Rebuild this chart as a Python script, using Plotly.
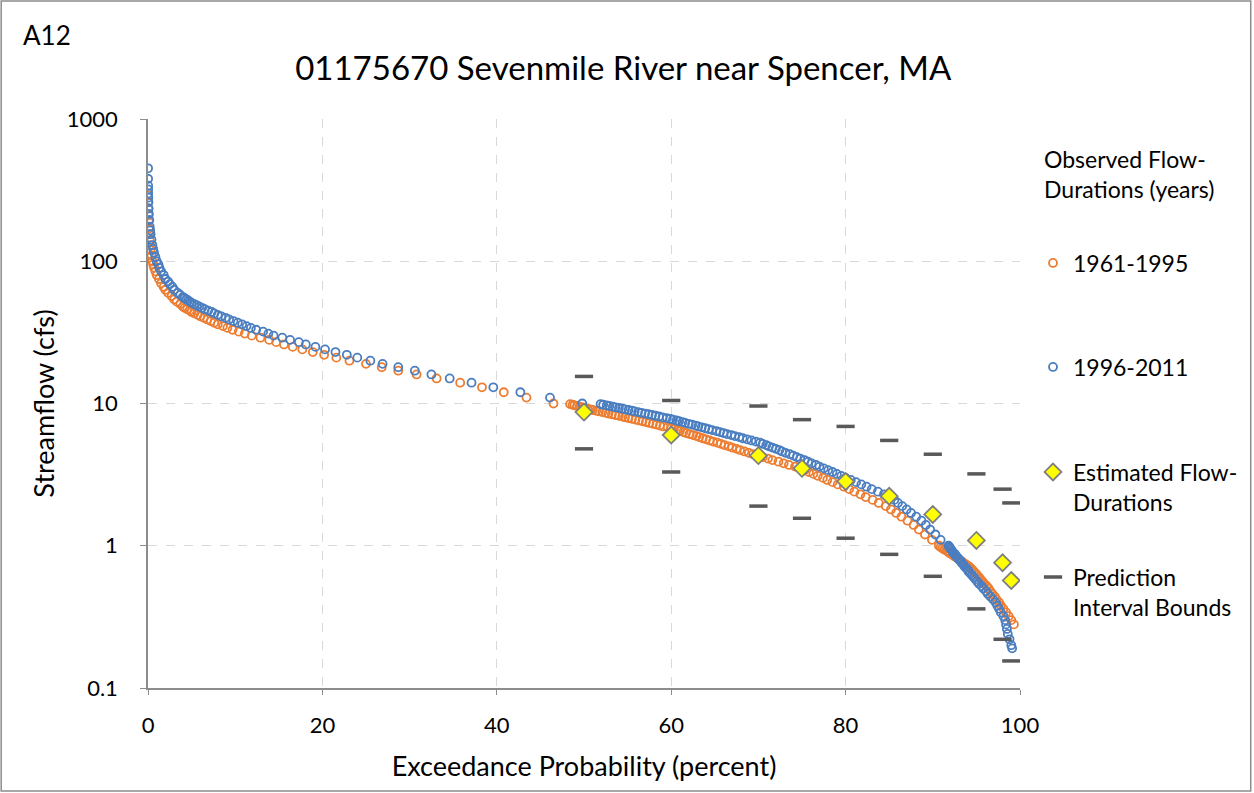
import plotly.graph_objects as go

FONT = "Lato"

# Observed flow-duration points, 1961-1995 (flow in cfs, exceedance in percent)
early_cfs = [
    290, 260, 235, 210, 190, 170, 155, 140, 130, 120, 110, 100, 95, 90, 85, 80, 75, 70, 66, 63,
    60, 57, 54, 52, 50, 48, 47, 46, 45, 44, 43, 42, 41, 40, 39, 38, 37, 36, 35, 34,
    33, 32, 31, 30, 29, 28, 27, 26, 25, 24, 23, 22, 21, 20, 19, 18, 17, 16, 15, 14,
    13, 12, 11, 10,
    9.9, 9.8, 9.7, 9.6, 9.5, 9.4, 9.3, 9.2, 9.1, 9.0, 8.9, 8.8, 8.7, 8.6, 8.5, 8.4, 8.3, 8.2, 8.1, 8.0,
    7.9, 7.8, 7.7, 7.6, 7.5, 7.4, 7.3, 7.2, 7.1, 7.0, 6.9, 6.8, 6.7, 6.6, 6.5, 6.4, 6.3, 6.2, 6.1, 6.0,
    5.9, 5.8, 5.7, 5.6, 5.5, 5.4, 5.3, 5.2, 5.1, 5.0, 4.9, 4.8, 4.7, 4.6, 4.5, 4.4, 4.3, 4.2, 4.1, 4.0,
    3.9, 3.8, 3.7, 3.6, 3.5, 3.4, 3.3, 3.2, 3.1, 3.0, 2.9, 2.8, 2.7, 2.6, 2.5, 2.4, 2.3, 2.2, 2.1, 2.0,
    1.9, 1.8, 1.7, 1.6, 1.5, 1.4, 1.3, 1.2, 1.1, 1.0,
    0.98, 0.96, 0.94, 0.92, 0.90, 0.88, 0.86, 0.84, 0.82, 0.80, 0.78, 0.76, 0.74, 0.72, 0.70, 0.68,
    0.66, 0.64, 0.62, 0.60, 0.58, 0.56, 0.54, 0.52, 0.50, 0.48, 0.46, 0.44, 0.42, 0.40, 0.38, 0.36,
    0.34, 0.32, 0.30, 0.28,
]
early_pct = [
    0.01, 0.02, 0.035, 0.05, 0.075, 0.1, 0.15, 0.2, 0.25, 0.3, 0.4, 0.5, 0.6, 0.7, 0.85, 1.0, 1.25, 1.5, 1.8, 2.0,
    2.3, 2.7, 3.0, 3.3, 3.7, 4.0, 4.2, 4.5, 4.8, 5.0, 5.3, 5.7, 6.0, 6.4, 6.8, 7.2, 7.6, 8.0, 8.6, 9.1,
    9.7, 10.4, 11.1, 11.9, 12.9, 13.9, 14.7, 15.6, 16.6, 17.7, 18.9, 20.2, 21.6, 23.1, 25.0, 26.8, 28.7, 30.8, 33.1, 35.8,
    38.3, 40.8, 43.4, 46.5,
    48.4, 48.7, 48.9, 49.2, 49.5, 49.8, 50.1, 50.4, 50.7, 51.0, 51.4, 51.7, 52.1, 52.5, 52.8, 53.2, 53.6, 54.0, 54.4, 54.7,
    55.1, 55.5, 55.9, 56.3, 56.7, 57.1, 57.5, 57.9, 58.3, 58.7, 59.1, 59.6, 60.0, 60.3, 60.7, 61.0, 61.4, 61.7, 62.1, 62.5,
    62.9, 63.2, 63.6, 64.0, 64.4, 64.8, 65.3, 65.7, 66.1, 66.6, 67.0, 67.5, 67.9, 68.4, 68.9, 69.4, 69.9, 70.5, 71.1, 71.6,
    72.3, 72.9, 73.5, 74.2, 74.8, 75.3, 75.8, 76.3, 76.8, 77.4, 77.9, 78.5, 79.1, 79.8, 80.4, 81.0, 81.7, 82.3, 83.1, 83.8,
    84.6, 85.2, 85.8, 86.4, 87.1, 87.8, 88.4, 89.1, 89.9, 90.7,
    90.9, 91.1, 91.3, 91.6, 91.8, 92.0, 92.3, 92.5, 92.8, 93.0, 93.3, 93.5, 93.8, 94.1, 94.3, 94.5,
    94.7, 94.9, 95.1, 95.3, 95.5, 95.7, 95.9, 96.2, 96.4, 96.6, 96.8, 97.1, 97.3, 97.6, 97.8, 98.1,
    98.4, 98.7, 99.0, 99.3,
]

# Observed flow-duration points, 1996-2011
late_cfs = [
    450, 380, 340, 320, 300, 280, 260, 235, 215, 195, 175, 165, 155, 142, 130, 122, 115, 107, 100, 95,
    90, 85, 80, 75, 72, 69, 66, 63, 60, 58, 56, 55, 54, 53, 52, 51, 50, 49, 48, 47,
    46, 45, 44, 43, 42, 41, 40, 39, 38, 37, 36, 35, 34, 33, 32, 31, 30, 29, 28, 27,
    26, 25, 24, 23, 22, 21, 20, 19, 18, 17, 16, 15, 14, 13, 12, 11, 10,
    9.9, 9.8, 9.7, 9.6, 9.5, 9.4, 9.3, 9.2, 9.1, 9.0, 8.9, 8.8, 8.7, 8.6, 8.5, 8.4, 8.3, 8.2, 8.1, 8.0,
    7.9, 7.8, 7.7, 7.6, 7.5, 7.4, 7.3, 7.2, 7.1, 7.0, 6.9, 6.8, 6.7, 6.6, 6.5, 6.4, 6.3, 6.2, 6.1, 6.0,
    5.9, 5.8, 5.7, 5.6, 5.5, 5.4, 5.3, 5.2, 5.1, 5.0, 4.9, 4.8, 4.7, 4.6, 4.5, 4.4, 4.3, 4.2, 4.1, 4.0,
    3.9, 3.8, 3.7, 3.6, 3.5, 3.4, 3.3, 3.2, 3.1, 3.0, 2.9, 2.8, 2.7, 2.6, 2.5, 2.4, 2.3, 2.2, 2.1, 2.0,
    1.9, 1.8, 1.7, 1.6, 1.5, 1.4, 1.3, 1.2, 1.1, 1.0,
    0.98, 0.96, 0.94, 0.92, 0.90, 0.88, 0.86, 0.84, 0.82, 0.80, 0.78, 0.76, 0.74, 0.72, 0.70, 0.68,
    0.66, 0.64, 0.62, 0.60, 0.58, 0.56, 0.54, 0.52, 0.50, 0.48, 0.46, 0.44, 0.42, 0.40, 0.38, 0.36,
    0.34, 0.32, 0.30, 0.28, 0.26, 0.24, 0.22, 0.20, 0.19,
]
late_pct = [
    0.01, 0.015, 0.02, 0.025, 0.03, 0.04, 0.05, 0.075, 0.1, 0.15, 0.2, 0.25, 0.3, 0.4, 0.5, 0.6, 0.7, 0.85, 1.0, 1.2,
    1.3, 1.5, 1.8, 2.0, 2.3, 2.5, 2.8, 3.0, 3.4, 3.7, 4.0, 4.2, 4.4, 4.6, 4.8, 5.0, 5.3, 5.6, 5.9, 6.2,
    6.5, 6.9, 7.3, 7.6, 8.0, 8.4, 8.9, 9.3, 9.8, 10.3, 10.8, 11.3, 11.8, 12.4, 13.2, 13.8, 14.4, 15.4, 16.3, 17.3,
    18.1, 19.2, 20.3, 21.5, 22.8, 24.0, 25.5, 26.9, 28.7, 30.6, 32.5, 34.6, 37.1, 39.6, 42.7, 46.1, 49.8,
    51.9, 52.2, 52.6, 52.9, 53.3, 53.6, 54.0, 54.4, 54.7, 55.1, 55.5, 55.8, 56.2, 56.6, 57.0, 57.4, 57.8, 58.2, 58.6, 59.0,
    59.5, 59.9, 60.2, 60.6, 60.9, 61.3, 61.6, 62.0, 62.4, 62.8, 63.1, 63.5, 63.9, 64.3, 64.7, 65.2, 65.6, 66.0, 66.4, 66.9,
    67.3, 67.8, 68.2, 68.7, 69.2, 69.7, 70.2, 70.5, 70.9, 71.2, 71.6, 72.0, 72.4, 72.7, 73.1, 73.6, 74.0, 74.4, 74.8, 75.3,
    75.7, 76.1, 76.6, 77.0, 77.5, 78.0, 78.5, 79.0, 79.5, 80.0, 80.6, 81.2, 81.8, 82.4, 83.0, 83.7, 84.4, 85.1, 85.6, 86.0,
    86.5, 87.0, 87.5, 88.1, 88.7, 89.2, 89.7, 90.3, 90.9, 91.8,
    91.9, 92.0, 92.1, 92.2, 92.3, 92.5, 92.6, 92.7, 92.9, 93.0, 93.2, 93.3, 93.5, 93.6, 93.8, 94.0,
    94.1, 94.3, 94.5, 94.7, 94.9, 95.1, 95.3, 95.6, 95.8, 96.1, 96.3, 96.6, 96.9, 97.2, 97.4, 97.6,
    97.8, 98.1, 98.3, 98.4, 98.5, 98.6, 98.8, 99.0, 99.1,
]

# Regression estimates and their prediction-interval bounds
est_pct = [50, 60, 70, 75, 80, 85, 90, 95, 98, 99]
est_cfs = [8.7, 6.0, 4.3, 3.5, 2.83, 2.23, 1.66, 1.09, 0.76, 0.57]
pi_upper_cfs = [15.5, 10.5, 9.6, 7.7, 6.9, 5.5, 4.4, 3.2, 2.5, 2.0]
pi_lower_cfs = [4.8, 3.3, 1.9, 1.56, 1.13, 0.87, 0.61, 0.36, 0.22, 0.155]

ORANGE = "#ED7D31"
BLUE = "#4A7EC0"

fig = go.Figure()

fig.add_trace(go.Scatter(
    x=early_pct, y=early_cfs, mode="markers", name="1961-1995", legend="legend",
    marker=dict(symbol="circle-open", size=8, color=ORANGE, line=dict(width=1.8, color=ORANGE)),
))
fig.add_trace(go.Scatter(
    x=late_pct, y=late_cfs, mode="markers", name="1996-2011", legend="legend2",
    marker=dict(symbol="circle-open", size=8, color=BLUE, line=dict(width=1.8, color=BLUE)),
))
fig.add_trace(go.Scatter(
    x=est_pct, y=est_cfs, mode="markers", name="Estimated Flow-<br>Durations", legend="legend3",
    marker=dict(symbol="diamond", size=13, color="#FFFF00", line=dict(width=1.8, color="#7F7F7F")),
))
fig.add_trace(go.Scatter(
    x=est_pct + est_pct, y=pi_upper_cfs + pi_lower_cfs, mode="markers",
    name="Prediction<br>Interval Bounds", legend="legend4",
    marker=dict(symbol="line-ew", size=13, color="#595959", line=dict(width=3.5, color="#595959")),
))

# plot area spans pixels 148..1021 horizontally and 119..688 vertically
PL, PR, PT, PB = 148, 1021, 119, 688
W, H = 1254, 793


def px_x(p):
    return (p - PL) / (PR - PL)


def px_y(p):
    return (PB - p) / (PB - PT)


legend_style = dict(
    font=dict(family=FONT, size=23, color="#000000"),
    bgcolor="rgba(0,0,0,0)", borderwidth=0, visible=True,
    x=px_x(1033), xanchor="left", yanchor="middle", valign="top",
)

fig.update_layout(
    width=W, height=H,
    showlegend=True,
    margin=dict(l=PL, r=W - PR, t=PT, b=H - PB),
    paper_bgcolor="white", plot_bgcolor="white",
    font=dict(family=FONT, color="#000000"),
    title=dict(text="01175670 Sevenmile River near Spencer, MA", x=0.497, xref="container",
               xanchor="center", y=1 - 68 / H, yref="container", yanchor="middle",
               font=dict(family=FONT, size=33, color="#000000")),
    legend=dict(legend_style, y=px_y(263)),
    legend2=dict(legend_style, y=px_y(367)),
    legend3=dict(legend_style, y=px_y(487)),
    legend4=dict(legend_style, y=px_y(592)),
    xaxis=dict(
        range=[0, 100], tickvals=[0, 20, 40, 60, 80, 100],
        showgrid=True, gridcolor="#D9D9D9", griddash="dash", gridwidth=1,
        showline=True, linecolor="#8C8C8C", linewidth=1.5,
        ticks="outside", ticklen=5, tickcolor="#8C8C8C", ticklabelstandoff=12,
        zeroline=False, tickfont=dict(family=FONT, size=22, color="#000000"),
        title=dict(text="Exceedance Probability (percent)", standoff=20,
                   font=dict(family=FONT, size=27, color="#000000")),
    ),
    yaxis=dict(
        type="log", range=[-1, 3],
        tickvals=[0.1, 1, 10, 100, 1000], ticktext=["0.1", "1", "10", "100", "1000"],
        showgrid=True, gridcolor="#D9D9D9", griddash="dash", gridwidth=1,
        showline=True, linecolor="#8C8C8C", linewidth=1.5,
        ticks="outside", ticklen=6, tickcolor="#8C8C8C", ticklabelstandoff=18,
        zeroline=False, tickfont=dict(family=FONT, size=22, color="#000000"),
        title=dict(text="Streamflow (cfs)", standoff=4,
                   font=dict(family=FONT, size=27, color="#000000")),
    ),
    annotations=[
        dict(text="A12", xref="paper", yref="paper", x=px_x(21), y=px_y(35),
             xanchor="left", yanchor="middle", showarrow=False,
             font=dict(family=FONT, size=26, color="#000000")),
        dict(text="Observed Flow-<br>Durations (years)", xref="paper", yref="paper",
             x=px_x(1043), y=px_y(143), xanchor="left", yanchor="top", align="left",
             showarrow=False, font=dict(family=FONT, size=23, color="#000000")),
    ],
    shapes=[
        dict(type="rect", xref="paper", yref="paper",
             x0=px_x(1), x1=px_x(W - 2), y0=px_y(H - 2), y1=px_y(1),
             line=dict(color="#8C8C8C", width=1.5), fillcolor="rgba(0,0,0,0)"),
    ],
)

fig.write_html("out.html")
